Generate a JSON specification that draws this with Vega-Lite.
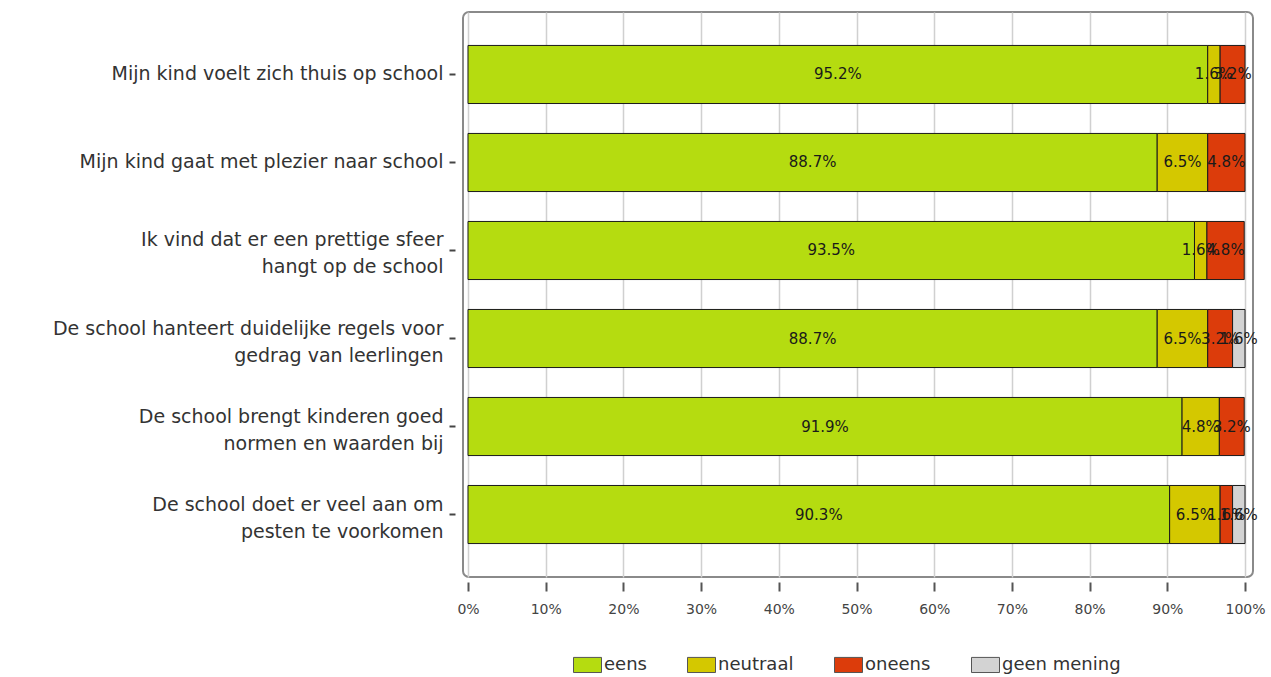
{
  "$schema": "https://vega.github.io/schema/vega-lite/v6.json",
  "width": 790,
  "height": 565,
  "autosize": "none",
  "padding": {"left": 463, "top": 12, "right": 18, "bottom": 100},
  "background": "white",
  "config": {
    "view": {"stroke": "#8a8a8a", "strokeWidth": 2, "cornerRadius": 6},
    "font": "DejaVu Sans"
  },
  "data": {
    "values": [
      {"q": "Mijn kind voelt zich thuis op school", "cat": "eens", "o": 1, "v": 0.952},
      {"q": "Mijn kind voelt zich thuis op school", "cat": "neutraal", "o": 2, "v": 0.016},
      {"q": "Mijn kind voelt zich thuis op school", "cat": "oneens", "o": 3, "v": 0.032},
      {"q": "Mijn kind gaat met plezier naar school", "cat": "eens", "o": 1, "v": 0.887},
      {"q": "Mijn kind gaat met plezier naar school", "cat": "neutraal", "o": 2, "v": 0.065},
      {"q": "Mijn kind gaat met plezier naar school", "cat": "oneens", "o": 3, "v": 0.048},
      {"q": "Ik vind dat er een prettige sfeer|hangt op de school", "cat": "eens", "o": 1, "v": 0.935},
      {"q": "Ik vind dat er een prettige sfeer|hangt op de school", "cat": "neutraal", "o": 2, "v": 0.016},
      {"q": "Ik vind dat er een prettige sfeer|hangt op de school", "cat": "oneens", "o": 3, "v": 0.048},
      {"q": "De school hanteert duidelijke regels voor|gedrag van leerlingen", "cat": "eens", "o": 1, "v": 0.887},
      {"q": "De school hanteert duidelijke regels voor|gedrag van leerlingen", "cat": "neutraal", "o": 2, "v": 0.065},
      {"q": "De school hanteert duidelijke regels voor|gedrag van leerlingen", "cat": "oneens", "o": 3, "v": 0.032},
      {"q": "De school hanteert duidelijke regels voor|gedrag van leerlingen", "cat": "geen mening", "o": 4, "v": 0.016},
      {"q": "De school brengt kinderen goed|normen en waarden bij", "cat": "eens", "o": 1, "v": 0.919},
      {"q": "De school brengt kinderen goed|normen en waarden bij", "cat": "neutraal", "o": 2, "v": 0.048},
      {"q": "De school brengt kinderen goed|normen en waarden bij", "cat": "oneens", "o": 3, "v": 0.032},
      {"q": "De school doet er veel aan om|pesten te voorkomen", "cat": "eens", "o": 1, "v": 0.903},
      {"q": "De school doet er veel aan om|pesten te voorkomen", "cat": "neutraal", "o": 2, "v": 0.065},
      {"q": "De school doet er veel aan om|pesten te voorkomen", "cat": "oneens", "o": 3, "v": 0.016},
      {"q": "De school doet er veel aan om|pesten te voorkomen", "cat": "geen mening", "o": 4, "v": 0.016}
    ]
  },
  "encoding": {
    "y": {
      "field": "q",
      "type": "nominal",
      "sort": [
        "Mijn kind voelt zich thuis op school",
        "Mijn kind gaat met plezier naar school",
        "Ik vind dat er een prettige sfeer|hangt op de school",
        "De school hanteert duidelijke regels voor|gedrag van leerlingen",
        "De school brengt kinderen goed|normen en waarden bij",
        "De school doet er veel aan om|pesten te voorkomen"
      ],
      "scale": {"paddingInner": 0.34, "paddingOuter": 0.38},
      "axis": {
        "title": null,
        "labelExpr": "split(datum.value, '|')",
        "labelFont": "DejaVu Sans",
        "labelFontSize": 19,
        "labelColor": "#333333",
        "labelLineHeight": 27,
        "labelLimit": 500,
        "labelPadding": 6,
        "labelOffset": {"expr": "indexof(datum.value, '|') >= 0 ? -10 : 0"},
        "domain": false,
        "offset": 8,
        "tickSize": 6,
        "tickWidth": 2,
        "tickColor": "#444444",
        "grid": false
      }
    },
    "x": {
      "field": "v",
      "type": "quantitative",
      "stack": "zero",
      "scale": {"domain": [0, 1], "range": [5, 782], "nice": false, "zero": false},
      "axis": {
        "title": null,
        "format": ".0%",
        "values": [0, 0.1, 0.2, 0.3, 0.4, 0.5, 0.6, 0.7, 0.8, 0.9, 1],
        "labelFont": "DejaVu Sans",
        "labelFontSize": 14,
        "labelColor": "#444444",
        "labelPadding": 11,
        "labelFlush": false,
        "domain": false,
        "offset": 5,
        "tickSize": 9,
        "tickWidth": 2,
        "tickColor": "#555555",
        "grid": true,
        "gridColor": "#d0d0d0",
        "gridWidth": 1.5
      }
    },
    "order": {"field": "o", "type": "quantitative"}
  },
  "layer": [
    {
      "mark": {"type": "bar", "stroke": "#1a1a1a", "strokeWidth": 1},
      "encoding": {
        "color": {
          "field": "cat",
          "type": "nominal",
          "scale": {
            "domain": ["eens", "neutraal", "oneens", "geen mening"],
            "range": ["#b5dc10", "#d4c800", "#dc3c0b", "#d3d3d3"]
          },
          "legend": {
            "title": null,
            "orient": "none",
            "direction": "horizontal",
            "legendX": 110,
            "legendY": 638,
            "symbolType": "M-1,-0.54L1,-0.54L1,0.54L-1,0.54Z",
            "symbolSize": 784,
            "symbolStrokeColor": "#555555",
            "symbolStrokeWidth": 1,
            "symbolOpacity": 1,
            "labelFont": "DejaVu Sans",
            "labelFontSize": 18,
            "labelColor": "#333333",
            "labelOffset": 2,
            "columnPadding": 38
          }
        }
      }
    },
    {
      "mark": {"type": "text", "font": "DejaVu Sans", "fontSize": 15, "color": "#1a1a1a"},
      "encoding": {
        "x": {"field": "v", "type": "quantitative", "stack": "zero", "bandPosition": 0.5},
        "text": {"field": "v", "type": "quantitative", "format": ".1%"}
      }
    }
  ]
}
